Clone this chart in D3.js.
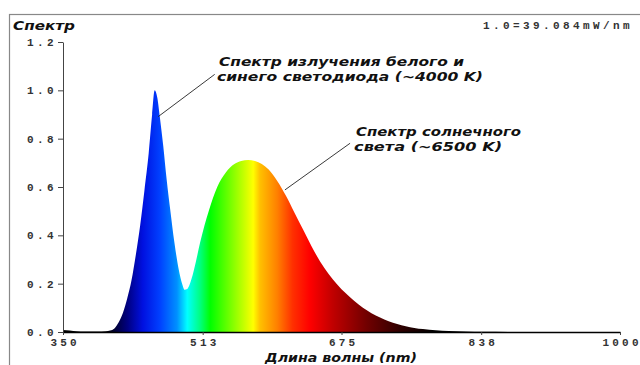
<!DOCTYPE html>
<html>
<head>
<meta charset="utf-8">
<script src="https://cdn.jsdelivr.net/npm/d3@7"></script>
<style>
  body { margin: 0; background: #fff; }
  svg { display: block; }
</style>
</head>
<body>
<div id="chart"></div>
<script>
// spectrum (nm -> relative power)
const wavelengths = [350, 358, 366, 375, 390, 400, 405, 410, 415, 420, 425, 430, 435, 440, 445, 450, 454, 457,
  460, 463, 467, 471, 475, 480, 485, 489, 492, 495, 500, 505, 510, 515, 520, 525, 530, 540, 550, 558, 566, 574, 582, 590,
  600, 610, 620, 630, 640, 650, 660, 670, 680, 690, 700, 710, 720, 730, 740, 750, 760, 770, 785, 800,
  820, 840, 870, 900, 1000];
const intensity = [0.008, 0.006, 0.003, 0.002, 0.002, 0.003, 0.006, 0.015, 0.04, 0.08, 0.14, 0.215, 0.32, 0.44, 0.585, 0.74, 0.9, 1.0,
  0.97, 0.89, 0.77, 0.63, 0.51, 0.37, 0.26, 0.2, 0.175, 0.178, 0.22, 0.29, 0.37, 0.44, 0.5, 0.555, 0.6, 0.66, 0.695, 0.708, 0.712, 0.708, 0.695, 0.672,
  0.625, 0.565, 0.495, 0.425, 0.355, 0.292, 0.24, 0.197, 0.16, 0.128, 0.1, 0.078, 0.06, 0.045, 0.033, 0.024, 0.017, 0.012, 0.007, 0.004,
  0.002, 0.001, 0.0005, 0.0003, 0];

const xTicks = [350, 513, 675, 838, 1000];
const yTicks = [0, 0.2, 0.4, 0.6, 0.8, 1.0, 1.2];

// colour of the fill along the wavelength axis
const stopWavelengths = [400, 425, 443, 463, 483, 495, 510, 522, 541, 560, 572, 580, 600, 618, 638, 665, 705, 743, 782];
const stopColors = ["#000000", "#000080", "#0010e0", "#0040ff", "#0090ff", "#00ffff", "#00ff80", "#00ff00", "#60ff00",
  "#c0ff00", "#ffff00", "#ffc000", "#ff8000", "#ff3000", "#ff0000", "#c00000", "#700000", "#300000", "#000000"];

const title = "Спектр";
const scaleNote = "1.0=39.084mW/nm";
const xTitle = "Длина волны (nm)";
const annotations = [
  { lines: ["Спектр излучения белого и", "синего светодиода (~4000 K)"], from: [461, 0.891], to: [527, 1.066], at: [532, 1.10] },
  { lines: ["Спектр солнечного", "света (~6500 K)"], from: [609, 0.588], to: [685, 0.781], at: [692, 0.811] }
];

const width = 640, height = 365;
const margin = { top: 42, right: 20, bottom: 33, left: 63 };

const data = wavelengths.map((w, i) => ({ wl: w, v: intensity[i] }));

const x = d3.scaleLinear().domain([350, 1000]).range([margin.left, width - margin.right]);
const y = d3.scaleLinear().domain([0, 1.2]).range([height - margin.bottom, margin.top]);

const svg = d3.select("#chart")
  .append("svg")
  .attr("width", width)
  .attr("height", height);

// outer frame
svg.append("rect")
  .attr("x", 9.5)
  .attr("y", 14.5)
  .attr("width", width)
  .attr("height", height)
  .attr("fill", "none")
  .attr("stroke", "#888")
  .attr("stroke-width", 1.2);

const grad = svg.append("defs")
  .append("linearGradient")
  .attr("id", "spec")
  .attr("gradientUnits", "userSpaceOnUse")
  .attr("x1", x(350)).attr("x2", x(1000))
  .attr("y1", 0).attr("y2", 0);

grad.selectAll("stop")
  .data(stopWavelengths)
  .join("stop")
  .attr("offset", d => (d - 350) / 650)
  .attr("stop-color", (d, i) => stopColors[i]);

const area = d3.area()
  .x(d => x(d.wl))
  .y0(y(0))
  .y1(d => y(d.v))
  .curve(d3.curveMonotoneX);

svg.append("path")
  .datum(data)
  .attr("fill", "url(#spec)")
  .attr("d", area);

const tickFont = g => g
  .attr("font-family", "'Liberation Mono', 'DejaVu Sans Mono', monospace")
  .attr("font-size", 11)
  .attr("font-weight", "bold")
  .attr("letter-spacing", "3.4px")
  .attr("fill", "#333");

// y axis
svg.append("g")
  .attr("transform", `translate(${margin.left},0)`)
  .call(d3.axisLeft(y).tickValues(yTicks).tickFormat(d3.format(".1f")).tickSize(5).tickSizeOuter(0).tickPadding(1))
  .call(g => g.selectAll("text").call(tickFont))
  .call(g => g.selectAll("line, path").attr("stroke", "#444"));

// x axis
svg.append("g")
  .attr("transform", `translate(0,${y(0)})`)
  .call(d3.axisBottom(x).tickValues(xTicks).tickFormat(d3.format("d")).tickSize(3).tickSizeOuter(0).tickPadding(3))
  .call(g => g.selectAll("text").call(tickFont).attr("letter-spacing", "3.2px").attr("dx", "1.6px"))
  .call(g => g.select(".domain").attr("stroke", "#000").attr("stroke-width", 1.6))
  .call(g => g.selectAll(".tick line").attr("stroke", "#444"));

const labelFont = t => t
  .attr("font-family", "'DejaVu Sans', sans-serif")
  .attr("font-style", "oblique")
  .attr("font-weight", "bold")
  .attr("font-size", 13)
  .attr("fill", "#111")
  .attr("lengthAdjust", "spacingAndGlyphs");

svg.append("text")
  .attr("x", 13)
  .attr("y", 30)
  .attr("textLength", 62)
  .call(labelFont)
  .text(title);

svg.append("text")
  .attr("x", 483)
  .attr("y", 28.5)
  .call(tickFont)
  .text(scaleNote);

svg.append("text")
  .attr("x", 265)
  .attr("y", 362)
  .attr("textLength", 152)
  .call(labelFont)
  .text(xTitle);

// annotations with leader lines
const lineWidths = [[245, 266], [165, 148]];

annotations.forEach((a, k) => {
  svg.append("line")
    .attr("x1", x(a.from[0])).attr("y1", y(a.from[1]))
    .attr("x2", x(a.to[0])).attr("y2", y(a.to[1]))
    .attr("stroke", "#222")
    .attr("stroke-width", 0.9);

  svg.append("g")
    .selectAll("text")
    .data(a.lines)
    .join("text")
    .attr("x", (d, i) => x(a.at[0]) - i * 2)
    .attr("y", (d, i) => y(a.at[1]) + i * 15)
    .attr("textLength", (d, i) => lineWidths[k][i])
    .call(labelFont)
    .text(d => d);
});
</script>
</body>
</html>
